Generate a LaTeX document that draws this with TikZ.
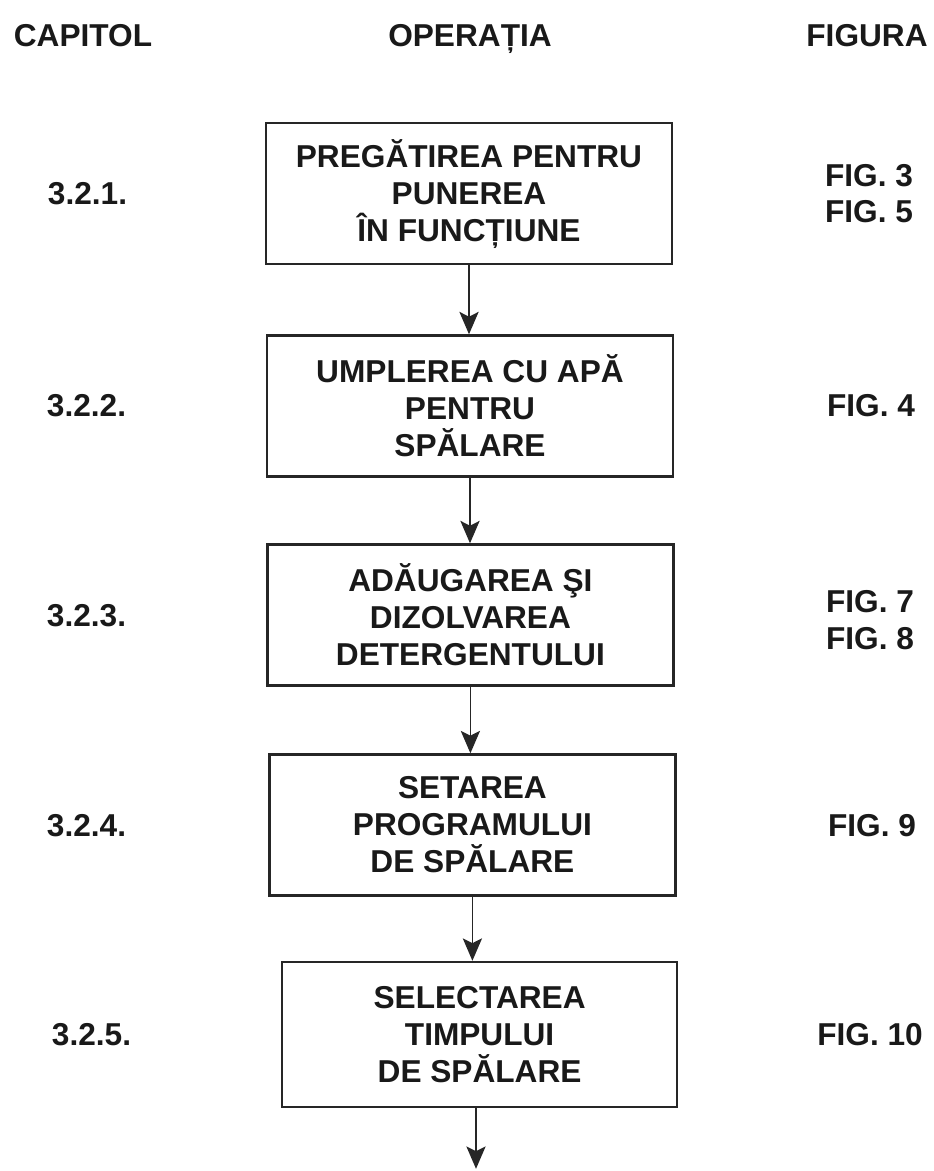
\documentclass[tikz,border=0pt]{standalone}
\usepackage{fontspec}
\setmainfont{Liberation Sans}
\usetikzlibrary{arrows.meta}
\tikzset{
  txt/.style={font=\bfseries\fontsize{22.5}{26.3}\selectfont, text=black!90},
  etapa/.style={txt, draw=black!85, line width=1.6pt, align=center, minimum width=10.15cm, minimum height=3.53cm, inner sep=0pt},
  sageata/.style={-{Stealth[length=0.56cm,width=0.48cm,inset=0.12cm]}, line width=1.2pt, black!85}
}
\begin{document}
\begin{tikzpicture}
\useasboundingbox (0,0) rectangle (23.325,-29.275);

\node[txt,anchor=base] (capitol) at (2.075,-1.17) {CAPITOL};
\node[txt,anchor=base] (operatia) at (11.75,-1.17) {OPERAȚIA};
\node[txt,anchor=base] (figura) at (21.675,-1.17) {FIGURA};

\node[etapa] (e1) at (11.725,-4.84) {PREGĂTIREA PENTRU\\PUNEREA\\ÎN FUNCȚIUNE};
\node[etapa] (e2) at (11.75,-10.15) {UMPLEREA CU APĂ\\PENTRU\\SPĂLARE};
\node[etapa] (e3) at (11.76,-15.375) {ADĂUGAREA ŞI\\DIZOLVAREA\\DETERGENTULUI};
\node[etapa] (e4) at (11.81,-20.625) {SETAREA\\PROGRAMULUI\\DE SPĂLARE};
\node[etapa,minimum width=9.875cm,minimum height=3.625cm] (e5) at (11.99,-25.86) {SELECTAREA\\TIMPULUI\\DE SPĂLARE};

\node[txt,anchor=west] (c1) at (1.075,-4.84) {3.2.1.};
\node[txt,anchor=west] (c2) at (1.05,-10.15) {3.2.2.};
\node[txt,anchor=west] (c3) at (1.05,-15.4) {3.2.3.};
\node[txt,anchor=west] (c4) at (1.05,-20.65) {3.2.4.};
\node[txt,anchor=west] (c5) at (1.175,-25.87) {3.2.5.};

\node[txt,align=center] (f1) at (21.725,-4.84) {FIG. 3\\FIG. 5};
\node[txt] (f2) at (21.775,-10.15) {FIG. 4};
\node[txt,align=center] (f3) at (21.75,-15.5) {FIG. 7\\FIG. 8};
\node[txt] (f4) at (21.8,-20.65) {FIG. 9};
\node[txt] (f5) at (21.75,-25.87) {FIG. 10};

\draw[sageata] (e1.south) -- (e1.south |- e2.north);
\draw[sageata] (e2.south) -- (e2.south |- e3.north);
\draw[sageata] (e3.south) -- (e3.south |- e4.north);
\draw[sageata] (e4.south) -- (e4.south |- e5.north);
\coordinate (capat) at (11.9,-29.22);
\draw[sageata] (e5.south -| capat) -- (capat);

\end{tikzpicture}
\end{document}
